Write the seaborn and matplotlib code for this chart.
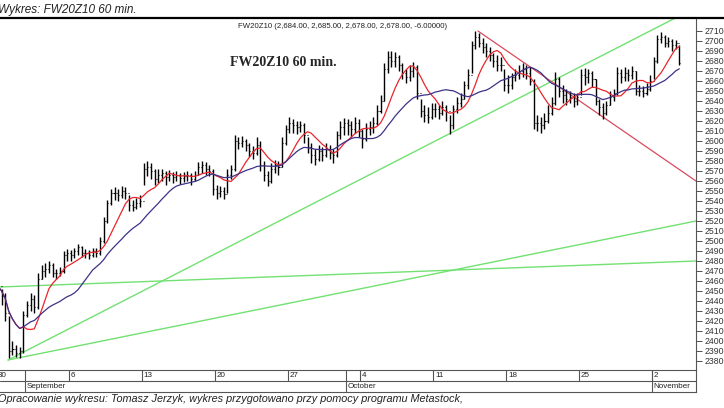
import numpy as np
import pandas as pd
import matplotlib
matplotlib.use("Agg")
import matplotlib.pyplot as plt
from matplotlib.lines import Line2D
import seaborn as sns

# FW20Z10, 60 min chart, Aug 30 - Nov 3 2010 (Nov 1 holiday)
# values, aggregated to 4 bars per trading day
bars_per_day = 4

close = [2455, 2445, 2428, 2390,   2392, 2388, 2390, 2426,   2436, 2442, 2434, 2462,
         2470, 2472, 2476, 2468,   2468, 2470, 2486, 2488,   2486, 2490, 2494, 2488,
         2488, 2486, 2490, 2488,   2500, 2520, 2538, 2548,   2548, 2546, 2550, 2548,
         2536, 2534, 2538, 2540,   2572, 2574, 2570, 2562,   2566, 2568, 2564, 2566,
         2564, 2566, 2563, 2565,   2566, 2562, 2566, 2574,   2576, 2572, 2570, 2552,
         2548, 2550, 2547, 2566,   2572, 2600, 2598, 2600,   2596, 2590, 2588, 2596,
         2576, 2566, 2560, 2572,   2576, 2574, 2598, 2612,   2618, 2616, 2614, 2616,
         2606, 2594, 2586, 2582,   2590, 2586, 2592, 2588,   2586, 2606, 2614, 2618,
         2616, 2612, 2618, 2610,   2602, 2612, 2614, 2618,   2630, 2640, 2672, 2684,
         2680, 2684, 2676, 2668,   2664, 2670, 2674, 2648,   2630, 2626, 2624, 2632,
         2632, 2628, 2634, 2630,   2616, 2632, 2638, 2642,   2656, 2666, 2696, 2704,
         2698, 2694, 2690, 2686,   2680, 2676, 2676, 2656,   2656, 2664, 2666, 2670,
         2672, 2668, 2660, 2618,   2618, 2616, 2620, 2628,   2638, 2662, 2650, 2646,
         2642, 2644, 2640, 2644,   2666, 2664, 2668, 2662,   2640, 2634, 2628, 2636,
         2644, 2648, 2668, 2664,   2668, 2666, 2670, 2650,   2650, 2648, 2652, 2660,
         2680, 2702, 2704, 2698,   2700, 2696, 2698, 2678]
high = [2460, 2452, 2448, 2425,   2400, 2396, 2394, 2430,   2440, 2448, 2446, 2468,
        2476, 2478, 2480, 2478,   2472, 2474, 2490, 2492,   2491, 2493, 2497, 2495,
        2492, 2491, 2493, 2493,   2504, 2524, 2541, 2552,   2554, 2552, 2555, 2554,
        2546, 2541, 2543, 2546,   2578, 2580, 2578, 2572,   2572, 2572, 2570, 2571,
        2569, 2570, 2568, 2569,   2570, 2568, 2570, 2579,   2580, 2579, 2576, 2572,
        2556, 2555, 2554, 2572,   2576, 2606, 2604, 2605,   2602, 2598, 2595, 2604,
        2600, 2580, 2570, 2578,   2581, 2580, 2604, 2616,   2624, 2622, 2620, 2620,
        2618, 2604, 2598, 2592,   2596, 2594, 2598, 2596,   2592, 2610, 2620, 2623,
        2622, 2620, 2624, 2622,   2612, 2618, 2620, 2624,   2636, 2646, 2678, 2690,
        2690, 2689, 2686, 2678,   2672, 2676, 2679, 2676,   2642, 2636, 2634, 2638,
        2638, 2636, 2640, 2636,   2626, 2636, 2644, 2648,   2660, 2672, 2700, 2710,
        2708, 2703, 2698, 2694,   2688, 2686, 2684, 2672,   2666, 2668, 2672, 2676,
        2678, 2676, 2674, 2662,   2626, 2624, 2628, 2636,   2644, 2669, 2664, 2656,
        2652, 2650, 2648, 2648,   2672, 2673, 2672, 2670,   2662, 2642, 2638, 2640,
        2650, 2652, 2674, 2672,   2674, 2672, 2675, 2670,   2656, 2655, 2658, 2666,
        2684, 2706, 2709, 2706,   2704, 2702, 2701, 2696]
low = [2448, 2436, 2420, 2383,   2386, 2384, 2383, 2388,   2424, 2430, 2428, 2432,
       2462, 2464, 2468, 2464,   2462, 2465, 2468, 2480,   2480, 2483, 2486, 2484,
       2483, 2482, 2484, 2484,   2486, 2498, 2518, 2536,   2541, 2540, 2543, 2542,
       2530, 2530, 2532, 2534,   2556, 2565, 2562, 2556,   2558, 2560, 2556, 2560,
       2558, 2560, 2557, 2559,   2560, 2556, 2560, 2566,   2568, 2566, 2565, 2546,
       2542, 2544, 2542, 2548,   2562, 2570, 2592, 2594,   2590, 2584, 2582, 2586,
       2570, 2560, 2555, 2558,   2568, 2566, 2574, 2596,   2608, 2608, 2607, 2609,
       2598, 2588, 2578, 2576,   2580, 2580, 2584, 2582,   2578, 2584, 2602, 2606,
       2606, 2604, 2608, 2604,   2593, 2600, 2606, 2608,   2616, 2628, 2640, 2668,
       2674, 2674, 2670, 2662,   2658, 2660, 2664, 2642,   2624, 2619, 2618, 2622,
       2624, 2622, 2626, 2620,   2607, 2612, 2628, 2634,   2642, 2652, 2668, 2692,
       2694, 2688, 2684, 2680,   2674, 2670, 2670, 2650,   2648, 2652, 2660, 2662,
       2664, 2662, 2656, 2612,   2610, 2608, 2612, 2618,   2626, 2636, 2644, 2638,
       2636, 2638, 2634, 2636,   2646, 2656, 2658, 2654,   2636, 2626, 2622, 2626,
       2636, 2640, 2646, 2658,   2660, 2660, 2662, 2646,   2645, 2644, 2646, 2650,
       2662, 2678, 2698, 2694,   2694, 2690, 2692, 2676]
first_open = 2458

# date axis: week ticks and month starts (trading day index)
week_days = [0, 5, 10, 15, 20, 25, 30, 35, 40, 45]
week_labels = ["30", "6", "13", "20", "27", "4", "11", "18", "25", "2"]
month_days = [2, 24, 45]
month_labels = ["September", "October", "November"]

# trend lines drawn on the chart: (day, price) pairs
green_lines = [[(0.82, 2381), (47.0, 2726)],
               [(0.82, 2381), (48.02, 2520)],
               [(0.27, 2454), (48.02, 2480)]]
red_line = [(33.06, 2710), (48.02, 2560)]

y_ticks = list(range(2380, 2711, 10))

n = len(close)
x = np.arange(n) / bars_per_day + 0.5 / bars_per_day
opens = [first_open] + close[:-1]
df = pd.DataFrame({"x": x, "open": opens, "high": high, "low": low, "close": close})
df["ma_fast"] = df["close"].rolling(8, min_periods=1).mean()
df["ma_slow"] = df["close"].rolling(20, min_periods=1).mean()

sns.set_theme(style="white")
plt.rcParams["font.family"] = ["Liberation Sans", "DejaVu Sans"]

W, H = 724, 408
fig = plt.figure(figsize=(W / 100, H / 100), dpi=100)
ax = fig.add_axes([0, 1 - 370 / H, 696 / W, (370 - 18) / H])
xlim = (0.268, 48.02)

for pts in green_lines:
    ax.plot([p[0] for p in pts], [p[1] for p in pts], color="#72e172", lw=1.0, zorder=1)
ax.plot([p[0] for p in red_line], [p[1] for p in red_line], color="#d94b5c", lw=0.9, zorder=1)

tick = 0.07
ax.vlines(df["x"], df["low"], df["high"], color="black", lw=1.0, zorder=3)
ax.hlines(df["open"], df["x"] - tick, df["x"], color="black", lw=0.8, zorder=3)
ax.hlines(df["close"], df["x"], df["x"] + tick, color="black", lw=0.8, zorder=3)

sns.lineplot(data=df, x="x", y="ma_fast", ax=ax, color="#e8262c", lw=0.9, zorder=4)
sns.lineplot(data=df, x="x", y="ma_slow", ax=ax, color="#3d3288", lw=0.9, zorder=4)

ax.set_xlim(*xlim)
ax.set_ylim(2371, 2723)
ax.set_xticks([])
ax.set_xlabel("")
ax.set_ylabel("")
ax.yaxis.tick_right()
ax.set_yticks(y_ticks)
ax.tick_params(axis="y", which="both", direction="out", length=4, width=0.6,
               colors="#333333", labelsize=6.3, pad=2.5, right=True, left=False)
for s in ["top", "left", "bottom"]:
    ax.spines[s].set_visible(False)
ax.spines["right"].set_color("#555555")
ax.spines["right"].set_linewidth(0.8)

ax.text(0.342, 0.977, "FW20Z10 (2,684.00, 2,685.00, 2,678.00, 2,678.00, -6.00000)",
        transform=ax.transAxes, fontsize=5.6, color="#222222", va="center", ha="left")
ax.text(0.33, 0.875, "FW20Z10 60 min.", transform=ax.transAxes, fontsize=10,
        fontweight="bold", family=["Liberation Serif", "DejaVu Serif"], va="center", ha="left")

# date strip below the chart
ax2 = fig.add_axes([0, 1 - 392 / H, 696 / W, 22 / H])
ax2.set_xlim(*xlim)
ax2.set_ylim(0, 2)
ax2.set_xticks([])
ax2.set_yticks([])
ax2.axhline(1, color="#555555", lw=0.8)
ax2.vlines(week_days, 1, 2, color="#555555", lw=0.8)
ax2.vlines(month_days, 0, 2, color="#555555", lw=0.8)
for d, lab in zip(week_days, week_labels):
    ax2.text(d + 0.12, 1.5, lab, fontsize=5.8, va="center", ha="left", color="#222222")
for d, lab in zip(month_days, month_labels):
    ax2.text(d + 0.12, 0.5, lab, fontsize=5.8, va="center", ha="left", color="#222222")
ax2.spines["left"].set_visible(False)
for s in ["top", "bottom", "right"]:
    ax2.spines[s].set_color("#555555")
    ax2.spines[s].set_linewidth(0.8)
ax2.set_facecolor("none")

fig.add_artist(Line2D([0, 1], [1 - 18 / H] * 2, color="black", lw=1.6,
                      transform=fig.transFigure))
fig.text(-0.003, 1 - 10 / H, "Wykres: FW20Z10 60 min.", fontsize=8.5, style="italic",
         va="center", ha="left", color="#222222")
fig.text(-0.003, 1 - 399 / H,
         "Opracowanie wykresu: Tomasz Jerzyk, wykres przygotowano przy pomocy programu Metastock,",
         fontsize=7.8, style="italic", va="center", ha="left", color="#222222")

fig.savefig("out.png", dpi=100)
